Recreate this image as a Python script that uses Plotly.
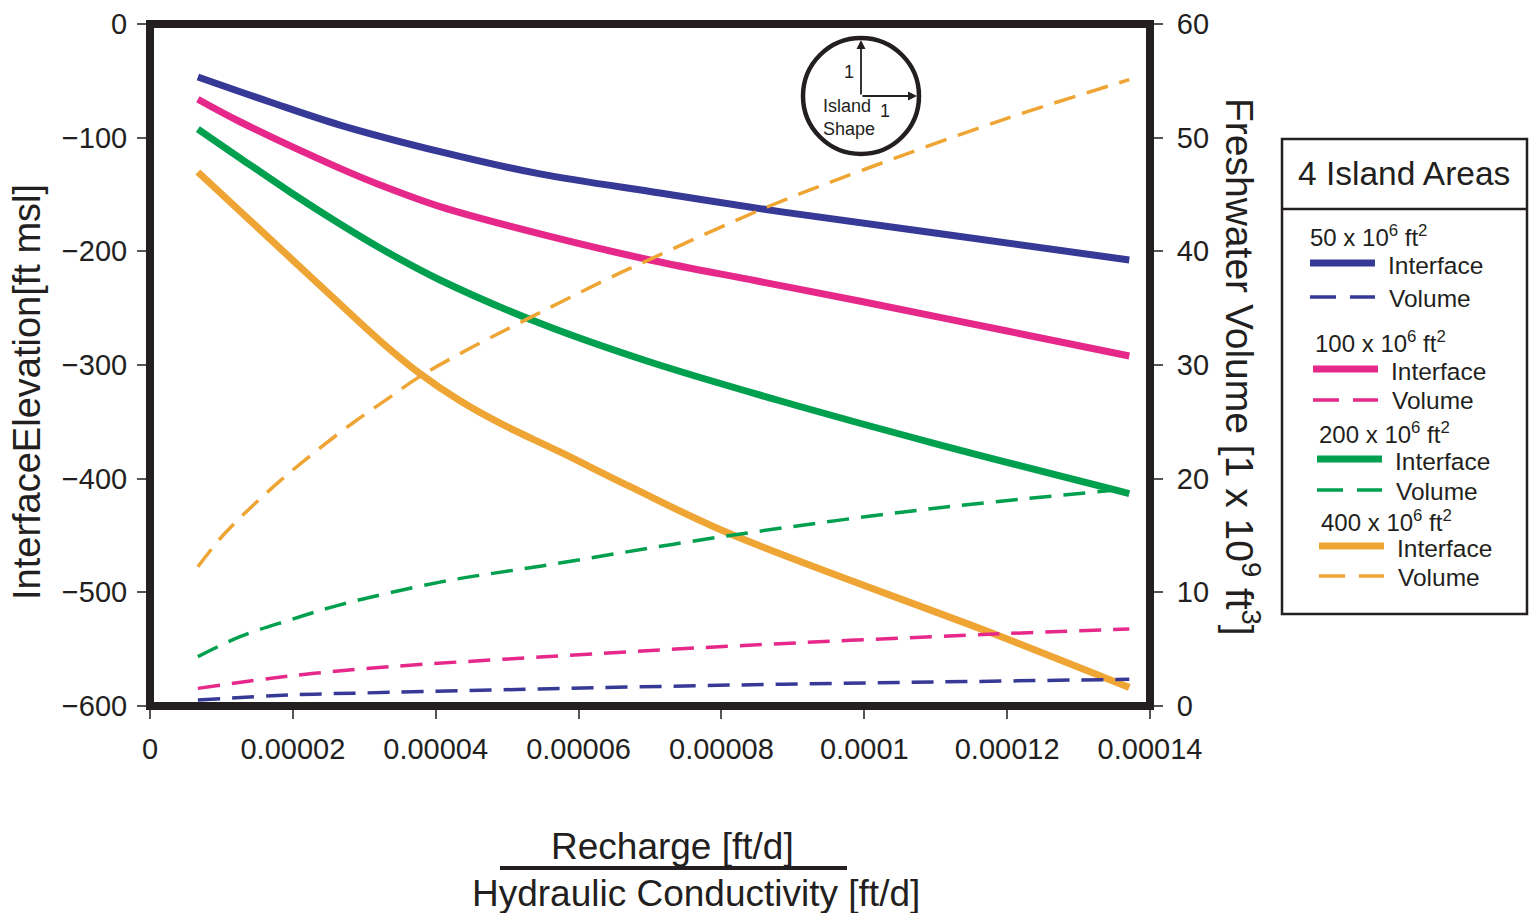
import plotly.graph_objects as go

# ---------------- data ----------------
# Interface elevation [ft msl] (left axis)
blue_int_x = [0.0000067, 0.0000168, 0.0000266, 0.0000406, 0.0000546, 0.0000714, 0.0000882, 0.0001099, 0.0001371]
blue_int_y = [-46.6, -68.6, -88.9, -112.3, -131.9, -148.7, -165.1, -183.9, -207.6]

pink_int_x = [0.0000067, 0.0000126, 0.0000266, 0.0000322, 0.0000406, 0.0000546, 0.0000700, 0.0000850, 0.0001000, 0.0001200, 0.0001371]
pink_int_y = [-66.2, -86.0, -127.0, -141.6, -160.7, -184.7, -207.6, -226.1, -244.6, -270.1, -292.1]

green_int_x = [0.0000067, 0.0000126, 0.0000196, 0.0000266, 0.0000322, 0.0000406, 0.0000546, 0.0000700, 0.0000878, 0.0001099, 0.0001371]
green_int_y = [-92.4, -117.9, -147.8, -176.0, -197.1, -225.2, -263.3, -297.4, -330.8, -369.1, -413.1]

orange_int_x = [0.0000067, 0.0000196, 0.0000252, 0.0000322, 0.0000378, 0.0000434, 0.0000490, 0.0000574, 0.0000673, 0.0000812, 0.0001182, 0.0001371]
orange_int_y = [-130.2, -205.5, -238.2, -278.7, -307.6, -331.5, -351.2, -376.5, -407.3, -448.5, -536.7, -583.8]

# Freshwater volume [1e9 ft3] (right axis)
blue_vol_x = [0.0000067, 0.0000196, 0.0000336, 0.0000546, 0.0000823, 0.0001099, 0.0001371]
blue_vol_y = [0.53, 0.97, 1.2, 1.5, 1.85, 2.11, 2.35]

pink_vol_x = [0.0000067, 0.0000196, 0.0000336, 0.0000546, 0.0000823, 0.0001182, 0.0001371]
pink_vol_y = [1.55, 2.64, 3.46, 4.3, 5.3, 6.33, 6.77]

green_vol_x = [0.0000067, 0.0000126, 0.0000196, 0.0000266, 0.0000406, 0.0000546, 0.0000812, 0.0001099, 0.0001371]
green_vol_y = [4.34, 6.1, 7.57, 8.9, 10.9, 12.3, 15.0, 17.4, 19.1]

orange_vol_x = [0.0000067, 0.0000102, 0.0000140, 0.0000182, 0.0000228, 0.0000284, 0.0000332, 0.0000378,
                0.0000452, 0.0000514, 0.0000574, 0.0000648, 0.0000693, 0.0000864, 0.0001000, 0.0001200, 0.0001371]
orange_vol_y = [12.25, 15.0, 17.4, 19.8, 22.2, 24.9, 27.0, 29.0,
                31.6, 33.6, 35.5, 37.8, 39.1, 43.9, 47.2, 51.7, 55.1]

x_tickvals = [0, 0.00002, 0.00004, 0.00006, 0.00008, 0.0001, 0.00012, 0.00014]
x_ticktext = ["0", "0.00002", "0.00004", "0.00006", "0.00008", "0.0001", "0.00012", "0.00014"]
left_ticks = [0, -100, -200, -300, -400, -500, -600]
right_ticks = [0, 10, 20, 30, 40, 50, 60]

areas = ["50", "100", "200", "400"]

# ---------------- styling ----------------
BLUE = "#363996"
PINK = "#e6288a"
GREEN = "#00a04f"
ORANGE = "#efa534"
INK = "#231f20"
FONT = "Liberation Sans, Arial, Helvetica, sans-serif"

W, H = 1530, 913
L, R, T, B = 150, 1150, 24, 706  # plot area in pixels


def px(xp):
    return (xp - L) / (R - L)


def py(yp):
    return (B - yp) / (B - T)


fig = go.Figure()

DASH = "22px,12px"
for xs, ys, c in [(blue_vol_x, blue_vol_y, BLUE), (pink_vol_x, pink_vol_y, PINK),
                  (green_vol_x, green_vol_y, GREEN), (orange_vol_x, orange_vol_y, ORANGE)]:
    fig.add_trace(go.Scatter(x=xs, y=ys, mode="lines", yaxis="y2",
                             line=dict(color=c, width=3.5, dash=DASH, shape="spline", smoothing=1.0),
                             showlegend=False, hoverinfo="skip"))

for xs, ys, c in [(blue_int_x, blue_int_y, BLUE), (pink_int_x, pink_int_y, PINK),
                  (green_int_x, green_int_y, GREEN), (orange_int_x, orange_int_y, ORANGE)]:
    fig.add_trace(go.Scatter(x=xs, y=ys, mode="lines",
                             line=dict(color=c, width=7, shape="spline", smoothing=1.0),
                             showlegend=False, hoverinfo="skip"))

tickfont = dict(family=FONT, size=29, color=INK)

fig.update_layout(
    width=W, height=H,
    margin=dict(l=L, r=W - R, t=T, b=H - B, pad=0),
    paper_bgcolor="white", plot_bgcolor="white",
    showlegend=False,
    xaxis=dict(range=[0, 0.00014], tickvals=x_tickvals, ticktext=x_ticktext,
               ticks="outside", ticklen=12, tickwidth=1.5, tickcolor="#555",
               tickfont=tickfont, showgrid=False, zeroline=False, showline=False,
               ticklabelstandoff=5, automargin=False),
    yaxis=dict(range=[-600, 0], tickvals=left_ticks, ticks="outside", ticklen=12,
               tickwidth=1.5, tickcolor="#555", tickfont=tickfont, showgrid=False,
               zeroline=False, showline=False, ticklabelstandoff=4, automargin=False),
    yaxis2=dict(range=[0, 60], tickvals=right_ticks, overlaying="y", side="right",
                ticks="outside", ticklen=12, tickwidth=1.5, tickcolor="#555",
                tickfont=tickfont, showgrid=False, zeroline=False, showline=False,
                ticklabelstandoff=8, automargin=False),
)

shapes = []
# thick frame
shapes.append(dict(type="rect", xref="paper", yref="paper", x0=0, x1=1, y0=0, y1=1,
                   line=dict(color=INK, width=8), layer="above"))
# x-title fraction bar
shapes.append(dict(type="line", xref="paper", yref="paper", x0=px(500), x1=px(847),
                   y0=py(868), y1=py(868), line=dict(color=INK, width=4)))
# island shape circle
shapes.append(dict(type="circle", xref="paper", yref="paper", x0=px(803), x1=px(919),
                   y0=py(154), y1=py(38), line=dict(color=INK, width=4.5)))
# legend box
shapes.append(dict(type="rect", xref="paper", yref="paper", x0=px(1282), x1=px(1527),
                   y0=py(614), y1=py(139), line=dict(color=INK, width=2.5)))
shapes.append(dict(type="line", xref="paper", yref="paper", x0=px(1282), x1=px(1527),
                   y0=py(209), y1=py(209), line=dict(color=INK, width=2.5)))

annotations = []


def txt(text, xp, yp, size, xanchor="center", angle=0):
    annotations.append(dict(text=text, x=px(xp), y=py(yp), xref="paper", yref="paper",
                            showarrow=False, xanchor=xanchor, yanchor="middle",
                            textangle=angle, font=dict(family=FONT, size=size, color=INK)))


# axis titles
txt("InterfaceElevation[ft msl]", 27, 392, 38, angle=-90)
txt("Freshwater Volume [1 x 10<sup>9</sup> ft<sup>3</sup>]", 1243, 367, 39, angle=90)
txt("Recharge [ft/d]", 672, 846, 37)
txt("Hydraulic Conductivity [ft/d]", 696, 893, 37)

# island shape inset
annotations.append(dict(x=px(861), y=py(40), xref="paper", yref="paper", text="",
                        showarrow=True, ax=0, ay=56, arrowhead=2, arrowsize=1,
                        arrowwidth=1.8, arrowcolor=INK))
annotations.append(dict(x=px(917), y=py(96), xref="paper", yref="paper", text="",
                        showarrow=True, ax=-56, ay=0, arrowhead=2, arrowsize=1,
                        arrowwidth=1.8, arrowcolor=INK))
txt("1", 849, 72, 18)
txt("1", 885, 111, 18)
txt("Island", 847, 106, 18)
txt("Shape", 849, 129, 18)

# legend
txt("4 Island Areas", 1404, 173, 33.5)
leg_colors = [BLUE, PINK, GREEN, ORANGE]
leg_head = [(1308, 236), (1313, 342), (1317, 433), (1319, 521)]
leg_int = [(1310, 263), (1313, 369), (1317, 459), (1319, 546)]
leg_vol = [(1310, 297), (1313, 400), (1317, 490), (1319, 576)]
for a, c, hd, it, vo in zip(areas, leg_colors, leg_head, leg_int, leg_vol):
    txt(a + " x 10<sup>6</sup> ft<sup>2</sup>", hd[0], hd[1], 24, xanchor="left")
    shapes.append(dict(type="line", xref="paper", yref="paper", x0=px(it[0]), x1=px(it[0] + 65),
                       y0=py(it[1]), y1=py(it[1]), line=dict(color=c, width=7)))
    txt("Interface", it[0] + 76, it[1] + 2, 24.5, xanchor="left")
    shapes.append(dict(type="line", xref="paper", yref="paper", x0=px(vo[0]), x1=px(vo[0] + 65),
                       y0=py(vo[1]), y1=py(vo[1]), line=dict(color=c, width=3.5, dash="26px,14px")))
    txt("Volume", vo[0] + 77, vo[1] + 1, 24.5, xanchor="left")

fig.update_layout(shapes=shapes, annotations=annotations)

fig.write_html(
    "out.html",
    config={"displayModeBar": False},
    post_script=("document.body.style.margin='0';document.body.style.padding='0';"
                 "document.documentElement.style.overflow='hidden';"
                 "document.body.style.overflow='hidden';"),
)
